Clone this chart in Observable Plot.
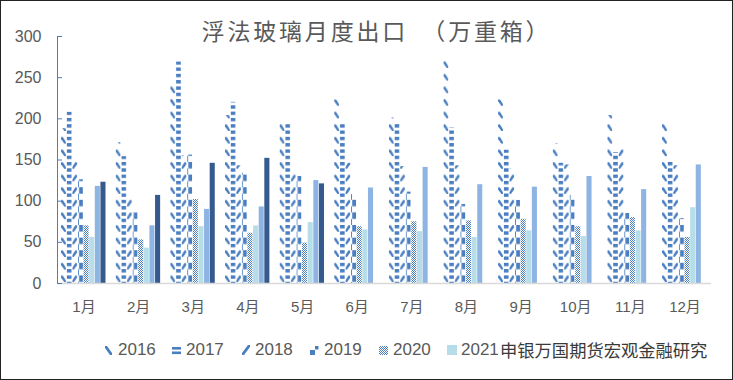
<!DOCTYPE html>
<html><head><meta charset="utf-8">
<script src="https://cdn.jsdelivr.net/npm/d3@7"></script>
<script src="https://cdn.jsdelivr.net/npm/@observablehq/plot@0.6"></script>
<style>
body{margin:0;background:#fff;}
#wrap{position:relative;width:733px;height:380px;overflow:hidden;background:#fff;font-family:"Liberation Sans","Noto Sans CJK SC",sans-serif;}
#chart{position:absolute;left:0;top:0;}
#title{position:absolute;left:10px;width:733px;top:12px;text-align:center;font-family:"Noto Sans CJK SC";font-size:23px;color:#595959;letter-spacing:2.8px;white-space:pre;line-height:36px;}
.lg{position:absolute;top:340px;height:20px;line-height:20px;font-size:17px;color:#595959;font-family:"Liberation Sans",sans-serif;}
.lg svg{position:absolute;left:0;top:5px;}
.lg span{position:absolute;left:14px;top:0;}
#wm{position:absolute;left:500px;top:337px;font-family:"Noto Sans CJK SC";font-size:17.3px;line-height:26px;color:#3a3a3a;text-shadow:0 0 2px #fff,0 0 2px #fff,0 0 3px #fff;white-space:nowrap;}
#border{position:absolute;left:0;top:0;width:733px;height:380px;box-sizing:border-box;border:1px solid #222;pointer-events:none;}
</style></head><body>
<div id="wrap">
  <svg width="0" height="0" style="position:absolute"><defs id="pdefs"></defs></svg>
  <div id="chart"></div>
  <div id="title"></div>
  <div id="legend"></div>
  <div id="wm">申银万国期货宏观金融研究</div>
  <div id="border"></div>
</div>
<script>
// ---- data ----
const months = ["1月","2月","3月","4月","5月","6月","7月","8月","9月","10月","11月","12月"];
const years = ["2016","2017","2018","2019","2020","2021","2022","2023"];
const legendYears = ["2016","2017","2018","2019","2020","2021"];
const v2016 = [188,171,240,204,195,223,201,274,223,170,204,199];
const v2017 = [208,154,269,220,193,193,194,189,162,146,159,147];
const v2018 = [148,103,155,143,135,146,142,143,139,144,166,143];
const v2019 = [126,86,156,134,130,108,111,96,101,107,85,79];
const v2020 = [70,53,102,61,49,69,75,76,78,69,80,56];
const v2021 = [56,43,69,70,74,65,63,56,64,57,64,92];
const v2022 = [118,70,90,93,125,116,141,120,117,130,114,144];
const v2023 = [123,107,146,152,121,null,null,null,null,null,null,null];
const yTicks = [0,50,100,150,200,250,300];
const titleText = "浮法玻璃月度出口　（万重箱）";

const series = {"2016":v2016,"2017":v2017,"2018":v2018,"2019":v2019,"2020":v2020,"2021":v2021,"2022":v2022,"2023":v2023};
const rows = [];
months.forEach((m,i)=>years.forEach(y=>{ const v = series[y][i]; if (v != null) rows.push({month:m, year:y, value:v}); }));

// ---- layout ----
const W = 733, H = 325, mL = 57, mR = 22, mT = 36, mB = 42;
const pIn = 0.175, pOut = 0.073;
const xb = d3.scaleBand(months, [mL, W - mR]).paddingInner(pIn).paddingOuter(pOut);
const bw = xb.bandwidth(), stepM = xb.step();
const s = bw / years.length, barW = s * 0.9;
const BLUE = "#4A7EC0";

// ---- patterns (aligned to month bands) ----
const defs = d3.select("#pdefs");
function pat(id, k, h, draw) {
  const p = defs.append("pattern").attr("id", id).attr("patternUnits","userSpaceOnUse")
    .attr("x", xb(months[0])).attr("y", mT).attr("width", stepM).attr("height", h);
  const g = p.append("g").attr("transform", `translate(${k*s},0)`);
  draw(g);
}
pat("p2016", 0, 12.6, g => g.append("path").attr("d","M0,0.3 L1.9,0.3 L4.9,5.2 L4.9,6.9 L3.3,6.9 L0,2.2 Z").attr("fill",BLUE));
pat("p2017", 1, 6.3, g => g.append("rect").attr("x",0).attr("y",0).attr("width",barW).attr("height",3.4).attr("fill",BLUE));
pat("p2018", 2, 12.6, g => g.append("path").attr("d","M4.9,0.3 L3.0,0.3 L0,5.2 L0,6.9 L1.6,6.9 L4.9,2.2 Z").attr("fill",BLUE));
pat("p2019", 3, 12.6, g => {
  g.append("rect").attr("x",1.2).attr("y",0).attr("width",barW-1.2).attr("height",6.5).attr("fill",BLUE);
  g.append("rect").attr("x",0).attr("y",6.5).attr("width",1).attr("height",6.1).attr("fill",BLUE);
});
{
  const p = defs.append("pattern").attr("id","p2020").attr("patternUnits","userSpaceOnUse").attr("width",2).attr("height",2);
  p.append("rect").attr("x",0).attr("y",0).attr("width",1).attr("height",1).attr("fill",BLUE);
  p.append("rect").attr("x",1).attr("y",1).attr("width",1).attr("height",1).attr("fill",BLUE);
}
const fills = {"2016":"url(#p2016)","2017":"url(#p2017)","2018":"url(#p2018)","2019":"url(#p2019)","2020":"url(#p2020)",
  "2021":"#B7DEE8","2022":"#8EB4E3","2023":"#345A8E"};

const barMarks = years.map((y,k)=> Plot.barY(rows.filter(d=>d.year===y), {
  x:"month", y:"value", fill: fills[y],
  insetLeft: k*s, insetRight: bw - k*s - barW
}));

const chart = Plot.plot({
  width: W, height: H,
  marginLeft: mL, marginRight: mR, marginTop: mT, marginBottom: mB,
  style: {fontFamily: '"Liberation Sans","Noto Sans CJK SC",sans-serif', fontSize: "15px", color: "#595959", background: "transparent"},
  x: {type: "band", domain: months, paddingInner: pIn, paddingOuter: pOut, round: false},
  y: {domain: [0,300]},
  marks: [
    ...barMarks,
    Plot.ruleY([0], {stroke: "#D9D9D9", strokeWidth: 1.3}),
    Plot.frame({anchor: "left", stroke: BLUE}),
    Plot.ruleY(yTicks, {stroke: BLUE, insetRight: (W - mL - mR) - 5}),
    Plot.axisY({ticks: yTicks, tickSize: 0, tickPadding: 16, fontSize: 16, color: "#595959", label: null}),
    Plot.axisX({tickSize: 0, tickPadding: 18, fontSize: 15, color: "#595959", label: null})
  ]
});
document.getElementById("chart").appendChild(chart);
document.getElementById("title").textContent = titleText;

// ---- legend ----
const lgLeft = [104,172,241,310,379,447];
const icons = {
  "2016": g => g.append("path").attr("d","M1,1 L3,1 L8,8 L8,10 L6,10 L1,3 Z").attr("fill",BLUE),
  "2017": g => { g.append("rect").attr("x",0).attr("y",2).attr("width",9).attr("height",2.6).attr("fill",BLUE);
                 g.append("rect").attr("x",0).attr("y",6.5).attr("width",9).attr("height",2.6).attr("fill",BLUE); },
  "2018": g => g.append("path").attr("d","M9,0 L7,0 L1,8 L1,10 L3,10 L9,2 Z").attr("fill",BLUE),
  "2019": g => { g.append("rect").attr("x",5).attr("y",1).attr("width",3.5).attr("height",3.5).attr("fill",BLUE);
                 g.append("rect").attr("x",0).attr("y",5).attr("width",5).attr("height",5).attr("fill",BLUE); },
  "2020": g => g.append("rect").attr("x",0).attr("y",1).attr("width",9).attr("height",9).attr("fill","url(#p2020)"),
  "2021": g => g.append("rect").attr("x",0).attr("y",0).attr("width",10).attr("height",10).attr("fill","#B7DEE8")
};
const lg = d3.select("#legend");
legendYears.forEach((y,i)=>{
  const item = lg.append("div").attr("class","lg").style("left", lgLeft[i]+"px");
  const sv = item.append("svg").attr("width",11).attr("height",11);
  icons[y](sv);
  item.append("span").text(y);
});
</script>
</body></html>
